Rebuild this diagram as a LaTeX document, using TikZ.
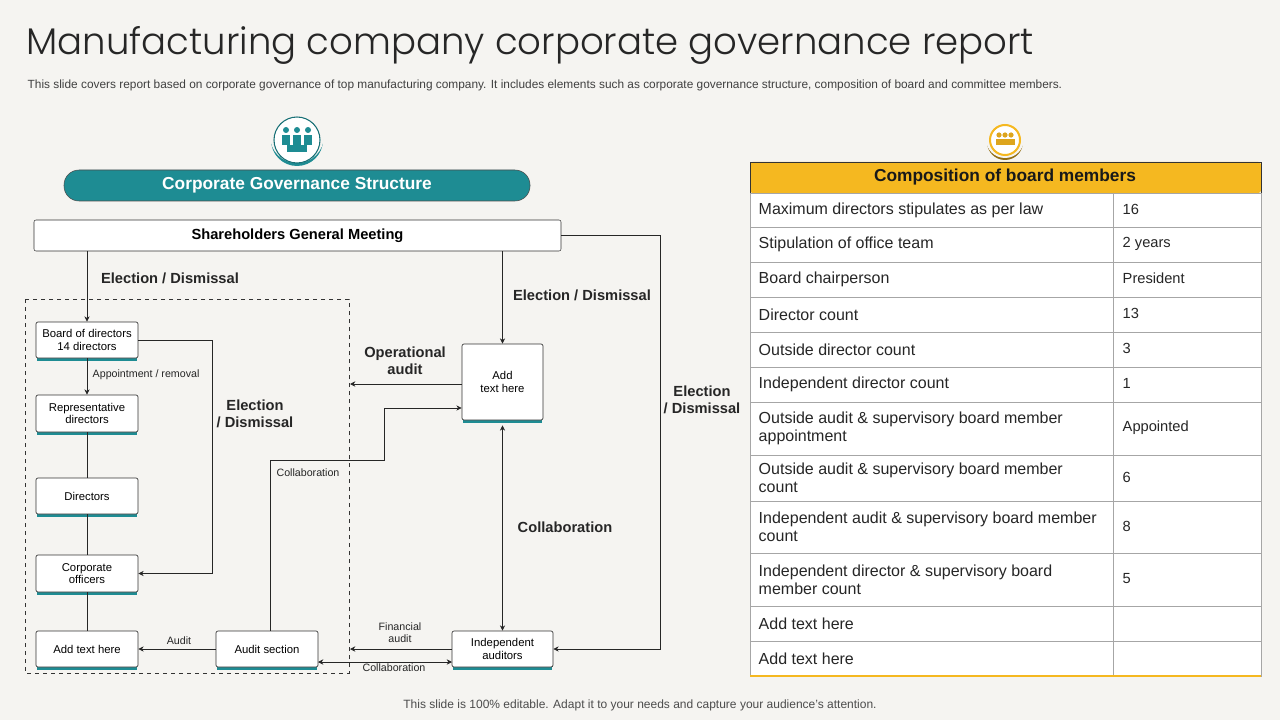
\documentclass[tikz,border=0pt]{standalone}
\usepackage{fontspec}
\setmainfont{Liberation Sans}
\newfontfamily\titlefont{Poppins Light}
\usetikzlibrary{arrows.meta}
\definecolor{bg}{HTML}{F5F4F1}
\definecolor{teal}{HTML}{1E8C93}
\definecolor{ylw}{HTML}{F5B820}
\definecolor{gridc}{HTML}{A6A6A6}
\tikzset{
 x=0.75pt,y=-0.75pt,
 bx/.style={draw=black!80,fill=white,rounded corners=1.5pt,align=center,font=\fontsize{8.5pt}{9.5pt}\selectfont,inner sep=0pt,line width=0.5pt},
 ln/.style={draw=black!85,line width=0.6pt},
 ar/.style={ln,-{Stealth[length=4pt,width=4pt]}},
 lbl/.style={font=\bfseries\fontsize{11pt}{13pt}\selectfont,align=center,text=black!85},
 sl/.style={font=\fontsize{8pt}{9pt}\selectfont,align=center,text=black!85},
 cell/.style={anchor=west,font=\fontsize{12pt}{13.5pt}\selectfont,align=left,text=black!85},
 cellv/.style={anchor=west,font=\fontsize{11pt}{13pt}\selectfont,text=black!85},
}
\newcommand{\tbox}[6]{% name, x1,y1,x2,y2,text
 \fill[teal] (#2+1,#3+2) rectangle (#4-1,#5+3);
 \node[bx,minimum width=(#4-#2)*0.75pt,minimum height=(#5-#3)*0.75pt] (#1) at ({(#2+#4)/2},{(#3+#5)/2}) {#6};}
\begin{document}
\begin{tikzpicture}
\fill[bg] (0,0) rectangle (1280,720);
\useasboundingbox (0,0) rectangle (1280,720);
\node[anchor=west,font=\titlefont\fontsize{27.8pt}{30pt}\selectfont,text=black!85] (title) at (22,45) {Manufacturing company corporate governance report};
\node[anchor=west,font=\fontsize{8.9pt}{10pt}\selectfont,text=black!75] (sub) at (23,85) {This slide covers report based on corporate governance of top manufacturing company. It includes elements such as corporate governance structure, composition of board and committee members.};
\node[font=\fontsize{9pt}{10pt}\selectfont,text=black!70] (foot) at (640,705) {This slide is 100\% editable. Adapt it to your needs and capture your audience’s attention.};
% icons
\fill[teal] (297,140) circle (26);
\fill[bg] (297,136) circle (27);
\draw[teal!80!black,fill=white,line width=0.8pt] (297,140) circle (23);
\fill[teal] (287,145) rectangle (307,152);
\foreach \dx in {-11,0,11}{\fill[teal] (297+\dx,130) circle (3); \fill[teal] (297+\dx-4,135) rectangle (297+\dx+4,145);}
\fill[ylw!60!black] (1005,142) circle (18);
\fill[bg] (1005,139) circle (19);
\draw[ylw,fill=white,line width=1.5pt] (1005,140) circle (15);
\foreach \dx in {-6,0,6}{\fill[ylw!90!black] (1005+\dx,135) circle (2.6); \fill[ylw!90!black] (1005+\dx-3.5,139) rectangle (1005+\dx+3.5,145);}
% banner
\node[draw=black!70,fill=teal,rounded corners=15*0.75pt,minimum width=466*0.75pt,minimum height=31*0.75pt,text=white,font=\bfseries\fontsize{13pt}{15pt}\selectfont] (banner) at (297,185.5) {Corporate Governance Structure};
% SGM
\node[draw=black!80,fill=white,rounded corners=1.5pt,minimum width=527*0.75pt,minimum height=31*0.75pt,font=\bfseries\fontsize{11pt}{13pt}\selectfont] (sgm) at (297.5,235.5) {Shareholders General Meeting};
\draw[black!80,dashed,line width=0.5pt] (25,299) rectangle (349,673);
\tbox{board}{36}{322}{138}{358}{Board of directors\\14 directors}
\tbox{rep}{36}{395}{138}{432}{Representative\\directors}
\tbox{dir}{36}{478}{138}{514}{Directors}
\tbox{co}{36}{555}{138}{592}{Corporate\\officers}
\tbox{addl}{36}{631}{138}{667}{Add text here}
\tbox{aud}{216}{631}{318}{667}{Audit section}
\tbox{addr}{462}{344}{543}{420}{Add\\text here}
\tbox{ind}{452}{631}{553}{667}{Independent\\auditors}
\coordinate (dl) at (350,384);
\coordinate (dl2) at (350,649);
\coordinate (c1) at (212,340);
\coordinate (c2) at (660,235.5);
% connectors
\draw[ar] (sgm.south -| board.north) -- (board.north);
\node[lbl] (l1) at (170,278) {Election / Dismissal};
\draw[ar] (board.south) -- (rep.north);
\node[sl,anchor=west] (l2) at (88,375) {Appointment / removal};
\draw[ln] (rep) -- (dir); \draw[ln] (dir) -- (co); \draw[ln] (co) -- (addl);
\draw[ar] (board.east) -- (c1) -- (c1 |- co.east) -- (co.east);
\node[lbl] (l3) at (255,414) {Election\\/ Dismissal};
\draw[ar] (sgm.south -| addr.north) -- (addr.north);
\node[lbl] (l4) at (582,295) {Election / Dismissal};
\draw[ar] (addr.west |- dl) -- (dl);
\node[lbl] (l5) at (405,361) {Operational\\audit};
\draw[ar] (aud.north -| 270,0) -- (270,460) -- (384,460) -- (384,408) -- (addr.west |- 0,408);
\node[sl] (l6) at (308,473) {Collaboration};
\draw[ln,{Stealth[length=4pt,width=4pt]}-{Stealth[length=4pt,width=4pt]}] (addr.south) ++(0,5) -- (ind.north);
\node[lbl] (l7) at (565,527) {Collaboration};
\draw[ar] (sgm.east) -- (c2) -- (c2 |- ind.east) -- (ind.east);
\node[lbl] (l8) at (702,400) {Election\\/ Dismissal};
\draw[ar] (ind.west) -- (dl2);
\node[sl] (l9) at (400,633) {Financial\\audit};
\draw[ln,{Stealth[length=4pt,width=4pt]}-{Stealth[length=4pt,width=4pt]}] (318,662) -- (452,662);
\node[sl] (l10) at (394,668) {Collaboration};
\draw[ar] (aud.west) -- (addl.east);
\node[sl] (l11) at (179,641) {Audit};
% table
\fill[ylw,rounded corners=2pt] (750,162) rectangle (1261,193);
\draw[black!80,line width=0.5pt] (750,193) -- (750,162) -- (1261,162) -- (1261,193);
\node[font=\bfseries\fontsize{13pt}{15pt}\selectfont,text=black!90] (th) at (1005,177.5) {Composition of board members};
\fill[white] (750,193) rectangle (1261,676);
\foreach \y in {227,262,297,332,367,402,455,501,553,606,641}{\draw[gridc,line width=0.6pt] (750,\y) -- (1261,\y);}
\draw[gridc,line width=0.6pt] (750,193) rectangle (1261,676);
\draw[gridc,line width=0.6pt] (1113,193) -- (1113,676);
\draw[ylw,line width=1.2pt] (750,676) -- (1261,676);
\foreach \a/\b/\t/\v in {193/227/Maximum directors stipulates as per law/16,227/262/Stipulation of office team/2 years,262/297/Board chairperson/President,297/332/Director count/13,332/367/Outside director count/3,367/402/Independent  director count/1,402/455/{Outside audit \& supervisory board member\\appointment}/Appointed,455/501/{Outside audit \& supervisory board member\\count}/6,501/553/{Independent  audit \& supervisory board member\\count}/8,553/606/{Independent  director \& supervisory board\\member count}/5,606/641/Add text here/,641/676/Add text here/}{
 \node[cell] at (754,{(\a+\b)/2}) {\t};
 \node[cellv] at (1118,{(\a+\b)/2-1}) {\v};}
\end{tikzpicture}
\end{document}
